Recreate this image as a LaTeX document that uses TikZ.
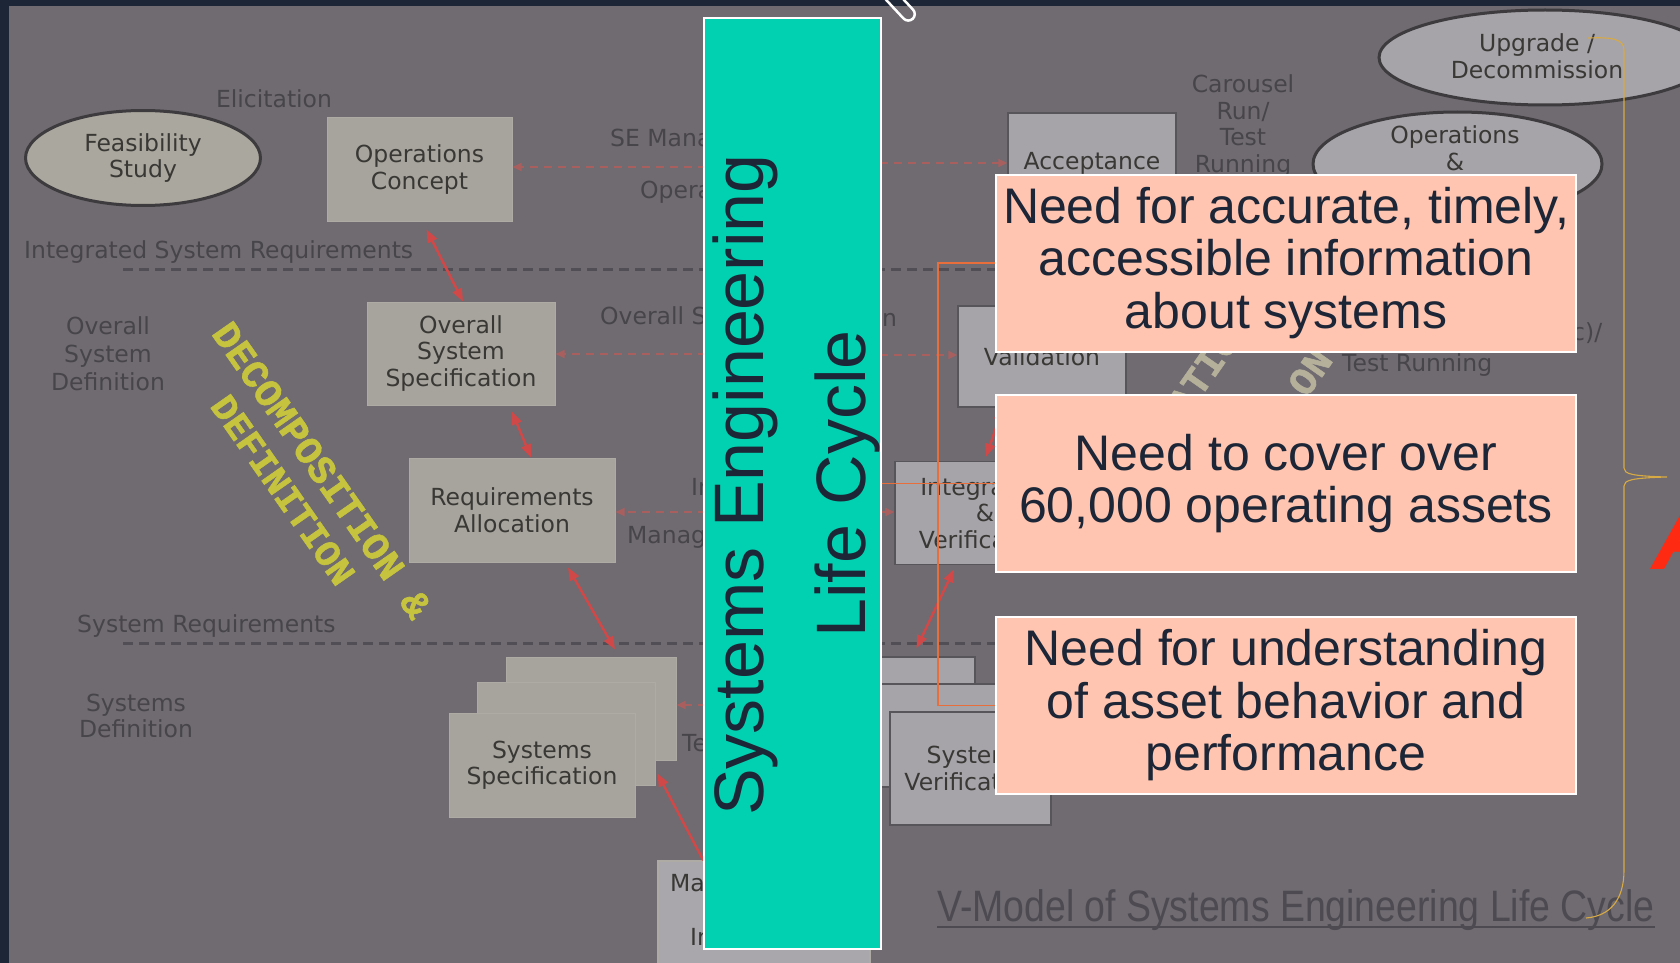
\documentclass[tikz,border=0pt]{standalone}
\usepackage{fontspec}
\setmainfont{DejaVu Sans}
\newfontfamily\needfont{Liberation Sans}
\newfontfamily\captionfam[FakeStretch=0.85]{Liberation Sans}
\newfontfamily\stencilfont[FakeBold=1.5]{Liberation Mono}
\usetikzlibrary{arrows.meta,shapes.geometric,calc}

\definecolor{framec}{HTML}{1C2636}
\definecolor{bggray}{HTML}{6F6B71}
\definecolor{boxL}{HTML}{A7A49D}
\definecolor{boxLe}{HTML}{AEABA4}
\definecolor{boxR}{HTML}{A6A3A9}
\definecolor{boxRe}{HTML}{57545A}
\definecolor{ellL}{HTML}{AAA79E}
\definecolor{ellE}{HTML}{3E3B3E}
\definecolor{lblc}{HTML}{47444A}
\definecolor{boxtxt}{HTML}{3A3835}
\definecolor{rline}{HTML}{D04848}
\definecolor{rdash}{HTML}{AA5F5F}
\definecolor{gdashc}{HTML}{524E56}
\definecolor{tealc}{HTML}{02D1B1}
\definecolor{pinkc}{HTML}{FFC5B1}
\definecolor{navy}{HTML}{1C2636}
\definecolor{yel}{HTML}{C6C43E}
\definecolor{beige}{HTML}{B5B09A}
\definecolor{orng}{HTML}{E86F3C}
\definecolor{gold}{HTML}{D8AA44}
\definecolor{captc}{HTML}{4D4A52}
\definecolor{redA}{HTML}{FF2A12}
\definecolor{maboxc}{HTML}{A9A6AC}

\newcommand\diafont{\fontsize{23.5}{26.5}\selectfont}
\newcommand\needsize{\needfont\fontsize{50}{52.5}\selectfont}
\newcommand\tealsize{\needfont\fontsize{70}{80}\selectfont}
\newcommand\decompsize{\stencilfont\bfseries\fontsize{39}{44}\selectfont}

\begin{document}
\begin{tikzpicture}[x=1pt,y=-1pt,
  lbl/.style={inner sep=0, text=lblc, font=\diafont, align=center},
  gbox/.style={fill=boxL, draw=boxLe, line width=1, inner sep=0, text=boxtxt, font=\diafont, align=center},
  rbox/.style={fill=boxR, draw=boxRe, line width=1.5, inner sep=0, text=boxtxt, font=\diafont, align=center},
  ellbox/.style={ellipse, fill=ellL, draw=ellE, line width=3, inner sep=0, text=boxtxt, font=\diafont, align=center},
  rarr/.style={draw=rline, line width=2.5, {Triangle[length=13pt,width=10pt]}-{Triangle[length=13pt,width=10pt]}},
  rarrone/.style={draw=rline, line width=2.5, -{Triangle[length=13pt,width=10pt]}},
  rdarr/.style={draw=rdash, line width=2, dash pattern=on 8pt off 6pt, -{Triangle[length=9pt,width=8pt]}},
  gdash/.style={draw=gdashc, line width=3, dash pattern=on 10pt off 6pt},
  needbox/.style={fill=pinkc, draw=white, line width=2, inner sep=0, minimum width=580, minimum height=177, align=center, text=navy, font=\needsize},
  tealtxt/.style={inner sep=0, text=navy, font=\tealsize},
  decomp/.style={inner sep=0, text=yel, font=\decompsize},
  integtxt/.style={inner sep=0, text=beige, font=\decompsize},
  orngline/.style={draw=orng, line width=1.6},
  goldline/.style={draw=gold, line width=1.1},
]
\useasboundingbox (0,0) rectangle (1680,963);
% screen frame and slide background
\fill[framec] (0,0) rectangle (1680,963);
\fill[bggray] (9,6) rectangle (1680,963);

% level separators
\draw[gdash] (123,269) -- (996,269);
\draw[gdash] (123,643) -- (996,643);

% left-hand labels
\node[lbl] (elic) at (274,99) {Elicitation};
\node[lbl, anchor=west] (isr) at (24,252) {Integrated System Requirements};
\node[lbl, font=\fontsize{23.5}{28}\selectfont] (osd) at (108,354) {Overall\\System\\Definition};
\node[lbl, anchor=west] (sreq) at (77,626) {System Requirements};
\node[lbl] (sdef) at (136,716) {Systems\\Definition};

% middle labels running under the banner
\node[lbl, anchor=west] (semg) at (610,140) {SE Manag};
\node[lbl, anchor=west] (oper) at (640,192) {Operat};
\node[lbl, anchor=west] (ovs) at (600,318) {Overall Sys};
\node[lbl, anchor=west] (intl) at (691,487) {In};
\node[lbl, anchor=west] (mgl) at (627,537) {Manage};
\node[lbl, anchor=west] (tl) at (682,743) {Te};
\node[lbl, anchor=west] (nl) at (882,320) {n};

% right-hand labels
\node[lbl] (carousel) at (1243,126) {Carousel\\Run/\\Test\\Running};
\node[lbl, anchor=west] (testrun) at (1342,365) {Test Running};
\node[lbl, anchor=west] (ccl) at (1572,333) {c)/};

% left branch
\node[ellbox, minimum width=235, minimum height=95] (feas) at (143,158) {Feasibility\\Study};
\node[gbox, minimum width=185, minimum height=103] (opcon) at (419.5,169.5) {Operations\\Concept};
\node[gbox, minimum width=188, minimum height=103] (oss) at (461,353.5) {Overall\\System\\Specification};
\node[gbox, minimum width=206, minimum height=104] (reqalloc) at (512,510) {Requirements\\Allocation};
\node[gbox, minimum width=170, minimum height=103] (specA) at (591,708.5) {};
\node[gbox, minimum width=178, minimum height=103] (specB) at (566,733.5) {};
\node[gbox, minimum width=186, minimum height=104] (specC) at (542,765) {Systems\\Specification};
\node[rbox, fill=maboxc, draw=boxLe, minimum width=212, minimum height=139] (mabox) at (764,930.5) {};
\node[lbl, text=boxtxt, anchor=west] (mat) at (670,883) {Man};
\node[lbl, text=boxtxt, anchor=west] (iat) at (690,937) {In};

% right branch
\node[ellbox, fill=boxR, minimum width=332, minimum height=95] (upg) at (1545,57.5) {};
\node[lbl, text=boxtxt] (upgt) at (1537,56) {Upgrade /\\Decommission};
\node[ellbox, fill=boxR, minimum width=289, minimum height=104] (opell) at (1457.5,164) {};
\node[lbl, text=boxtxt] (opellt) at (1455,148) {Operations\\\&};
\node[rbox, minimum width=168, minimum height=100] (accept) at (1092,163) {Acceptance};
\node[rbox, minimum width=168, minimum height=101] (valid) at (1042,356.5) {Validation};
\node[rbox, minimum width=180, minimum height=103] (integ) at (985,513) {Integration\\\&\\Verification};
\node[rbox, minimum width=115, minimum height=103] (verA) at (917.5,708.5) {};
\node[rbox, minimum width=180, minimum height=103] (verB) at (950,735.5) {};
\node[rbox, minimum width=161, minimum height=113] (verC) at (970.5,768.5) {System\\Verification};

% management links (dashed)
\coordinate (dl1) at (720,167);
\coordinate (dl2) at (720,354);
\coordinate (dl3) at (720,512);
\coordinate (dl4) at (720,705);
\coordinate (dr1) at (866,163);
\coordinate (dr2) at (866,355);
\coordinate (dr3) at (866,512);
\draw[rdarr] (dl1) -- (opcon.east |- dl1);
\draw[rdarr] (dl2) -- (oss.east |- dl2);
\draw[rdarr] (dl3) -- (reqalloc.east |- dl3);
\draw[rdarr] (dl4) -- (specA.east |- dl4);
\draw[rdarr] (dr1) -- (accept.west |- dr1);
\draw[rdarr] (dr2) -- (valid.west |- dr2);
\draw[rdarr] (dr3) -- (integ.west |- dr3);

% flow between stages
\draw[rarr] ([xshift=7pt,yshift=-8pt]opcon.south) -- ([xshift=2pt]oss.north);
\draw[rarr] ([xshift=51pt,yshift=-6pt]oss.south) -- ([xshift=19pt]reqalloc.north);
\draw[rarr] ([xshift=56pt,yshift=-5pt]reqalloc.south) -- ([xshift=24pt,yshift=7pt]specA.north);
\draw[rarrone] ([xshift=46pt]mabox.north west) -- ([xshift=2pt,yshift=12pt]specB.south east);
\draw[rarr] ([xshift=-39pt]valid.south) -- ([xshift=1pt,yshift=4pt]integ.north);
\draw[rarr] ([xshift=-31pt,yshift=-4pt]integ.south) -- ([xshift=-1pt,yshift=8pt]verA.north);

% diagonal phase captions
\node[decomp, rotate=-55] (dec1) at (322,470) {DECOMPOSITION \&};
\node[decomp, rotate=-55, font=\stencilfont\bfseries\fontsize{37}{42}\selectfont] (dec2) at (283,490) {DEFINITION};
\node[integtxt, rotate=55] (intg1) at (1203,372) {ATIO};
\node[integtxt, rotate=55] (intg2) at (1310,372) {ON};

% vertical banner
\node[fill=tealc, draw=white, line width=1.2, minimum width=177, minimum height=931, inner sep=0] (teal) at (792.5,483.5) {};
\node[tealtxt, rotate=90, anchor=base] (se) at (763,485) {Systems Engineering};
\node[tealtxt, rotate=90, anchor=base] (lc) at (865,484) {Life Cycle};

% need boxes
\node[needbox] (p1) at (1286,263) {Need for accurate, timely,\\accessible information\\about systems};
\node[needbox] (p2) at (1286,483.5) {Need to cover over\\60,000 operating assets};
\node[needbox] (p3) at (1286,705.5) {Need for understanding\\of asset behavior and\\performance};

% bracket joining the banner to the need boxes
\coordinate (bx) at (938,484);
\draw[orngline] (teal.east) -- (p2.west);
\draw[orngline] (p1.west) -- (p1.west -| bx) |- (p3.west);

% caption
\node[inner sep=0, text=captc, font=\captionfam\fontsize{44}{50}\selectfont, anchor=base west] (vcap) at (937,921) {V-Model of Systems Engineering Life Cycle};
\draw[captc, line width=2] ([yshift=-6pt]vcap.base west) -- ([yshift=-6pt]vcap.base east);

% brace on the right
\draw[goldline] (1588,38) .. controls (1612,37) and (1624,39) .. (1624,50) -- (1624,468)
  .. controls (1624,474) and (1632,476) .. (1667,477)
  .. controls (1632,478) and (1624,480) .. (1624,486) -- (1624,870)
  .. controls (1624,900) and (1610,916) .. (1586,918);

% cut-off red letter at the edge
\node[inner sep=0, text=redA, font=\needfont\bfseries\itshape\fontsize{98}{100}\selectfont, anchor=base west] (bigA) at (1652,569) {A};

% pen cursor at the top
\node[draw=white, line width=2.5, rounded corners=6.5, minimum width=46, minimum height=13, inner sep=0, rotate=-47] (pen) at (897,2) {};
\end{tikzpicture}
\end{document}
